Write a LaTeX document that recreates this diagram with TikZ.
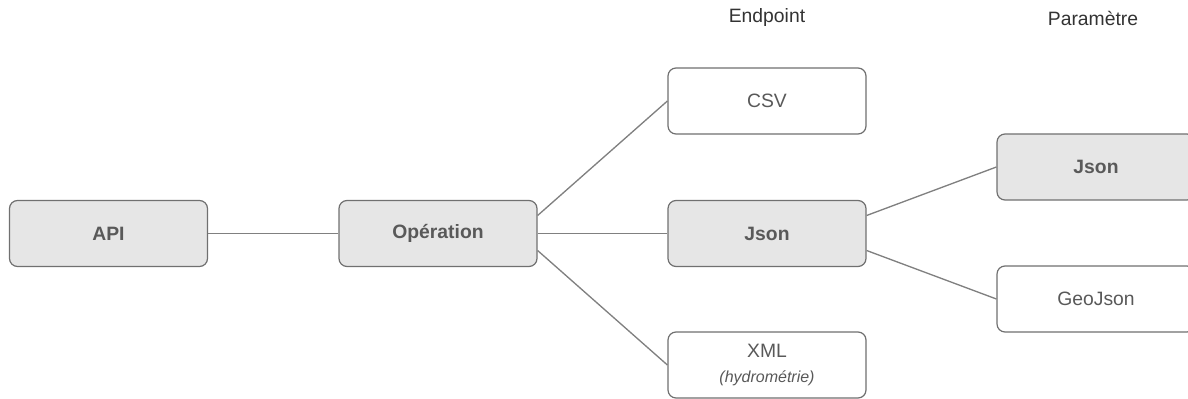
\documentclass[tikz,border=0pt]{standalone}
\usepackage{fontspec}
\setmainfont{Liberation Sans}
\usetikzlibrary{calc}
\definecolor{boxfill}{HTML}{E6E6E6}
\definecolor{boxline}{HTML}{707070}
\definecolor{txt}{HTML}{595959}
\definecolor{edge}{HTML}{808080}
\begin{document}
\begin{tikzpicture}[x=0.75pt,y=-0.75pt,
  base/.style={draw=boxline,line width=0.9pt,rounded corners=6pt,minimum width=198*0.75pt,minimum height=66*0.75pt,inner sep=0pt,text=txt,font=\fontsize{14.5}{16}\selectfont,align=center},
  graybox/.style={base,fill=boxfill,font=\fontsize{14.5}{16}\selectfont\bfseries},
  whitebox/.style={base,fill=white},
  link/.style={draw=edge,line width=1pt},
  head/.style={text=black!80,font=\fontsize{14.5}{16}\selectfont}]
\useasboundingbox (0,0) rectangle (1188,399);
\clip (0,0) rectangle (1188,399);
\node[graybox] (api) at (108.5,233.5) {API};
\node[graybox] (op) at (438,233.5) {Opération};
\node[whitebox] (csv) at (767,101) {CSV};
\node[graybox] (json) at (767,233.5) {Json};
\node[whitebox] (xml) at (767,365) {XML\\[3pt]{\fontsize{12}{13}\selectfont\itshape (hydrométrie)}};
\node[graybox] (pjson) at (1096,167) {Json};
\node[whitebox] (geo) at (1096,299) {GeoJson};
\node[head] (hend) at (767,18) {Endpoint};
\node[head] (hpar) at (1093,18) {Paramètre};
\draw[link] (api.east) -- (op.west);
\draw[link] ($(op.east)+(0,-18)$) -- (csv.west);
\draw[link] (op.east) -- (json.west);
\draw[link] ($(op.east)+(0,17)$) -- (xml.west);
\draw[link] ($(json.east)+(0,-18)$) -- (pjson.west);
\draw[link] ($(json.east)+(0,17)$) -- (geo.west);
\end{tikzpicture}
\end{document}
